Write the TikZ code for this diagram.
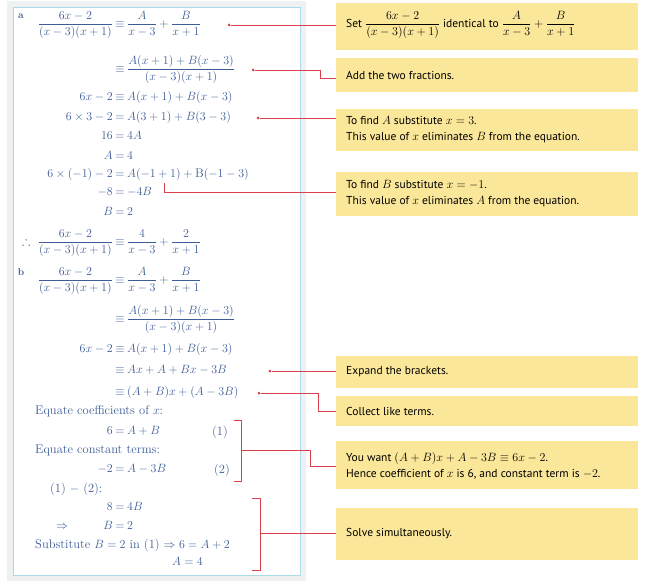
\documentclass[tikz,border=0pt]{standalone}
\usepackage{amsmath,amssymb}
\usepackage{fontspec}
\setsansfont{PT Sans}
\begin{document}
\begin{tikzpicture}[x=1pt,y=-1pt,
 lt/.style={text=mathblue,font=\fontsize{12.5}{13}\selectfont,inner sep=0pt},
 box/.style={fill=boxy,anchor=north west,minimum width=302pt,inner sep=0pt},
 bt/.style={font=\sffamily\fontsize{11.5}{16}\selectfont,anchor=west,align=left,inner sep=0pt},
 con/.style={draw=conred,line width=0.8pt},
 dot/.style={circle,fill=conred,inner sep=0pt,minimum size=3pt}]
\definecolor{mathblue}{HTML}{3D5C98}
\definecolor{boxy}{HTML}{FBE79A}
\definecolor{conred}{HTML}{D8404E}
\definecolor{panelgray}{HTML}{EEF0F2}
\definecolor{panelblue}{HTML}{A9DCE8}
\useasboundingbox (0,0) rectangle (647,586);
\fill[panelgray] (7,1) rectangle (306,581);
\draw[panelblue,fill=white,line width=0.8pt] (13,7) rectangle (300,575);
\newcommand{\eqn}[4]{%
 \node[lt,anchor=mid east] at (113,#1) {#2};
 \node[lt] at (120,#1) {#3};
 \node[lt,anchor=mid west] at (127,#1) {#4};}
% part a
\node[lt,font=\bfseries\fontsize{10}{10}\selectfont] at (21,16) {a};
\eqn{25}{$\dfrac{6x-2}{(x-3)(x+1)}$}{$\equiv$}{$\dfrac{A}{x-3}+\dfrac{B}{x+1}$}
\node[dot] (d1) at (229,25) {};
\eqn{70}{}{$\equiv$}{$\dfrac{A(x+1)+B(x-3)}{(x-3)(x+1)}$}
\node[dot] (d2) at (253,70) {};
\eqn{98}{$6x-2$}{$\equiv$}{$A(x+1)+B(x-3)$}
\eqn{118}{$6\times3-2$}{$=$}{$A(3+1)+B(3-3)$}
\node[dot] (d3) at (258,118) {};
\eqn{137}{$16$}{$=$}{$4A$}
\eqn{157}{$A$}{$=$}{$4$}
\eqn{175}{$6\times(-1)-2$}{$=$}{$A(-1+1)+\mathrm{B}(-1-3)$}
\coordinate (d4) at (164,183);
\eqn{193}{$-8$}{$=$}{$-4B$}
\eqn{213}{$B$}{$=$}{$2$}
\eqn{243}{$\therefore\ \dfrac{6x-2}{(x-3)(x+1)}$}{$\equiv$}{$\dfrac{4}{x-3}+\dfrac{2}{x+1}$}
% part b
\node[lt,font=\bfseries\fontsize{10}{10}\selectfont] at (21,272) {b};
\eqn{281}{$\dfrac{6x-2}{(x-3)(x+1)}$}{$\equiv$}{$\dfrac{A}{x-3}+\dfrac{B}{x+1}$}
\eqn{320}{}{$\equiv$}{$\dfrac{A(x+1)+B(x-3)}{(x-3)(x+1)}$}
\eqn{350}{$6x-2$}{$\equiv$}{$A(x+1)+B(x-3)$}
\eqn{371}{}{$\equiv$}{$Ax+A+Bx-3B$}
\node[dot] (d5) at (270,371) {};
\eqn{393}{}{$\equiv$}{$(A+B)x+(A-3B)$}
\node[dot] (d6) at (259,393) {};
\node[lt,anchor=mid west] at (35,412) {Equate coefficients of $x$:};
\eqn{432}{$6$}{$=$}{$A+B$}
\node[lt] at (220,432) {(1)};
\node[lt,anchor=mid west] at (35,451) {Equate constant terms:};
\eqn{470}{$-2$}{$=$}{$A-3B$}
\node[lt] at (222,470) {(2)};
\node[lt,anchor=mid west] at (50,490) {(1) $-$ (2):};
\eqn{508}{$8$}{$=$}{$4B$}
\node[lt] at (62,527) {$\Rightarrow$};
\eqn{527}{$B$}{$=$}{$2$}
\node[lt,anchor=mid west] at (35,546) {Substitute $B=2$ in (1) $\Rightarrow 6=A+2$};
\node[lt,anchor=mid west] at (172,563) {$A=4$};
% brackets
\draw[con] (234,420) -- (241,420) -- (241,481) -- (234,481);
\coordinate (br1) at (241,450);
\draw[con] (252,498) -- (260,498) -- (260,570) -- (252,570);
\coordinate (br2) at (260,533);
% boxes
\node[box,minimum height=47pt] (b1) at (336,3) {};
\node[bt] at (346,25) {Set $\dfrac{6x-2}{(x-3)(x+1)}$ identical to $\dfrac{A}{x-3}+\dfrac{B}{x+1}$};
\node[box,minimum height=34pt] (b2) at (336,58) {};
\node[bt] at (346,75) {Add the two fractions.};
\node[box,minimum height=42pt] (b3) at (336,109) {};
\node[bt] at (346,130) {To find $A$ substitute $x=3$.\\This value of $x$ eliminates $B$ from the equation.};
\node[box,minimum height=44pt] (b4) at (336,172) {};
\node[bt] at (346,194) {To find $B$ substitute $x=-1$.\\This value of $x$ eliminates $A$ from the equation.};
\node[box,minimum height=32pt] (b5) at (336,356) {};
\node[bt] at (346,372) {Expand the brackets.};
\node[box,minimum height=30pt] (b6) at (336,396) {};
\node[bt] at (346,411) {Collect like terms.};
\node[box,minimum height=48pt] (b7) at (336,441) {};
\node[bt] at (346,466) {You want $(A+B)x+A-3B\equiv6x-2$.\\Hence coefficient of $x$ is 6, and constant term is $-2$.};
\node[box,minimum height=52pt] (b8) at (336,508) {};
\node[bt] at (346,534) {Solve simultaneously.};
% connectors
\draw[con] (d1) -- (d1 -| b1.west);
\draw[con] (d2) -- (320,70) -- (320,78) -- (336,78);
\draw[con] (d3) -- (d3 -| b3.west);
\draw[con] (d4) -- (164,192) -- (336,192);
\draw[con] (d5) -- (d5 -| b5.west);
\draw[con] (d6) -- (318,393) -- (318,411) -- (336,411);
\draw[con] (br1) -- (310,450) -- (310,466) -- (336,466);
\draw[con] (br2) -- (br2 -| b8.west);
\end{tikzpicture}
\end{document}
